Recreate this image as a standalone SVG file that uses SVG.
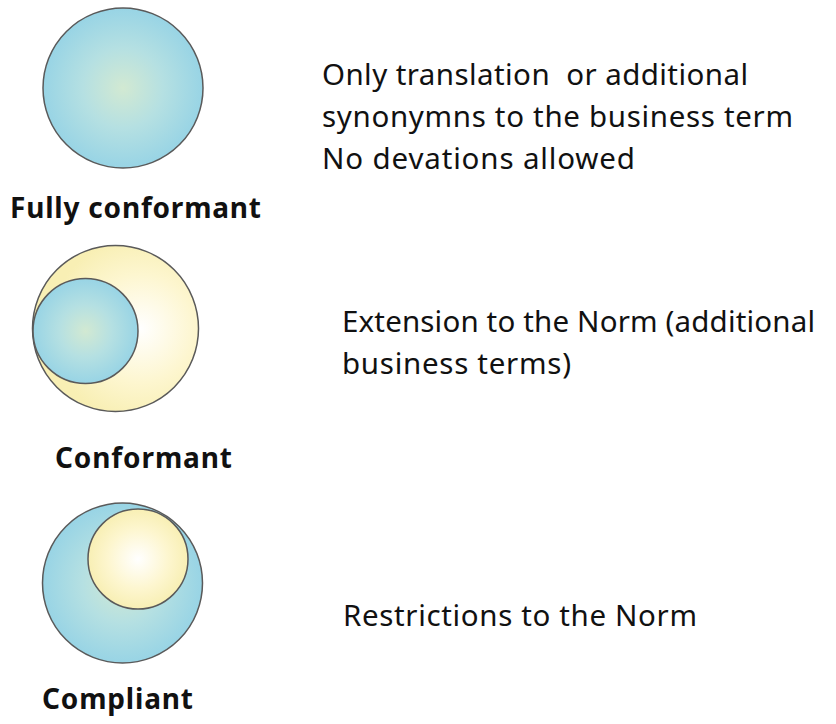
<svg xmlns="http://www.w3.org/2000/svg" width="836" height="724" viewBox="0 0 836 724">
<defs>
<radialGradient id="blue" cx="50%" cy="50%" r="50%">
<stop offset="0" stop-color="#d2e9d2"/>
<stop offset="0.5" stop-color="#b5e0e2"/>
<stop offset="1" stop-color="#98d4e5"/>
</radialGradient>
<radialGradient id="yellow" cx="50%" cy="50%" r="50%">
<stop offset="0" stop-color="#ffffff"/>
<stop offset="0.6" stop-color="#fdf6cf"/>
<stop offset="1" stop-color="#f8efb4"/>
</radialGradient>
<radialGradient id="yellowOff" cx="65%" cy="50%" r="55%">
<stop offset="0" stop-color="#ffffff"/>
<stop offset="0.6" stop-color="#fdf6cf"/>
<stop offset="1" stop-color="#f8efb4"/>
</radialGradient>
</defs>
<style>
.c{stroke:#5a5a5a;stroke-width:1.5}
.lbl{font-family:"Noto Sans","Open Sans",sans-serif;font-weight:bold;font-size:28px;fill:#111}
.desc{font-family:"Noto Sans","Open Sans",sans-serif;font-size:29.5px;fill:#111;white-space:pre}
</style>
<rect width="836" height="724" fill="#ffffff"/>
<g id="fully-conformant">
<circle class="c" cx="123" cy="88" r="80" fill="url(#blue)"/>
<text class="lbl" x="10" y="218" textLength="251">Fully conformant</text>
</g>
<g id="conformant">
<circle class="c" cx="115.5" cy="328.5" r="83" fill="url(#yellowOff)"/>
<circle class="c" cx="85.5" cy="331" r="52.5" fill="url(#blue)"/>
<text class="lbl" x="55" y="468" textLength="177">Conformant</text>
</g>
<g id="compliant">
<circle class="c" cx="122.5" cy="583" r="80" fill="url(#blue)"/>
<circle class="c" cx="138" cy="559" r="50" fill="url(#yellow)"/>
<text class="lbl" x="42" y="709" textLength="151">Compliant</text>
</g>
<g id="descriptions">
<text class="desc" x="322" y="85" textLength="426" xml:space="preserve">Only translation  or additional</text>
<text class="desc" x="322" y="127" textLength="471">synonymns to the business term</text>
<text class="desc" x="322" y="169" textLength="313">No devations allowed</text>
<text class="desc" x="342" y="332" textLength="473">Extension to the Norm (additional</text>
<text class="desc" x="342" y="374" textLength="229">business terms)</text>
<text class="desc" x="343" y="626" textLength="354">Restrictions to the Norm</text>
</g>
<g id="connectors"/>
</svg>
